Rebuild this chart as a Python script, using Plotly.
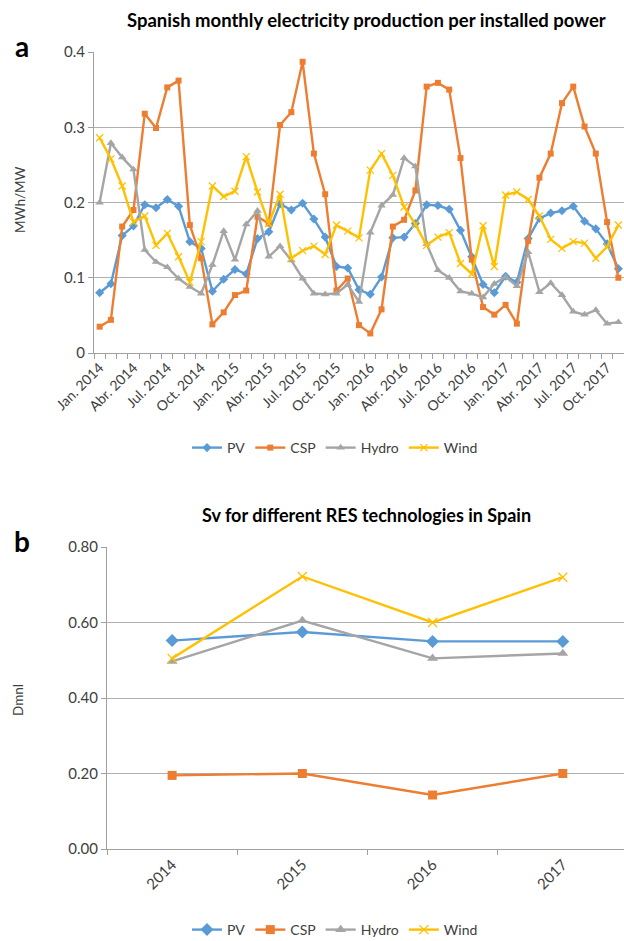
import plotly.graph_objects as go

# ---------------- Data: chart a (monthly, Jan 2014 .. Nov 2017) ----------------
month_index = list(range(47))
tick_positions = [0, 3, 6, 9, 12, 15, 18, 21, 24, 27, 30, 33, 36, 39, 42, 45]
tick_labels = ["Jan. 2014", "Abr. 2014", "Jul. 2014", "Oct. 2014",
               "Jan. 2015", "Abr. 2015", "Jul. 2015", "Oct. 2015",
               "Jan. 2016", "Abr. 2016", "Jul. 2016", "Oct. 2016",
               "Jan. 2017", "Abr. 2017", "Jul. 2017", "Oct. 2017"]

pv_monthly = [0.080, 0.092, 0.156, 0.169, 0.197, 0.193, 0.204, 0.195, 0.148, 0.139,
              0.082, 0.098, 0.111, 0.105, 0.152, 0.161, 0.198, 0.190, 0.199, 0.178,
              0.154, 0.115, 0.113, 0.084, 0.078, 0.101, 0.153, 0.154, 0.172, 0.197,
              0.196, 0.191, 0.163, 0.128, 0.091, 0.080, 0.102, 0.094, 0.152, 0.179,
              0.186, 0.189, 0.195, 0.175, 0.165, 0.145, 0.112]
csp_monthly = [0.035, 0.044, 0.168, 0.190, 0.318, 0.299, 0.353, 0.362, 0.170, 0.126,
               0.038, 0.054, 0.077, 0.083, 0.181, 0.172, 0.303, 0.320, 0.387, 0.265,
               0.211, 0.083, 0.099, 0.037, 0.026, 0.058, 0.168, 0.177, 0.216, 0.354,
               0.359, 0.350, 0.259, 0.124, 0.061, 0.051, 0.064, 0.039, 0.149, 0.233,
               0.265, 0.332, 0.354, 0.301, 0.265, 0.174, 0.100]
hydro_monthly = [0.200, 0.279, 0.260, 0.244, 0.137, 0.121, 0.114, 0.099, 0.088, 0.079,
                 0.117, 0.162, 0.124, 0.171, 0.189, 0.128, 0.142, 0.123, 0.099, 0.079,
                 0.078, 0.079, 0.091, 0.068, 0.160, 0.196, 0.210, 0.259, 0.248, 0.145,
                 0.110, 0.100, 0.082, 0.079, 0.074, 0.092, 0.101, 0.089, 0.134, 0.081,
                 0.093, 0.077, 0.055, 0.051, 0.057, 0.039, 0.041]
wind_monthly = [0.286, 0.258, 0.222, 0.174, 0.182, 0.143, 0.159, 0.128, 0.094, 0.148,
                0.222, 0.208, 0.215, 0.261, 0.214, 0.172, 0.211, 0.126, 0.136, 0.142,
                0.131, 0.170, 0.162, 0.153, 0.243, 0.265, 0.236, 0.194, 0.171, 0.143,
                0.154, 0.160, 0.119, 0.105, 0.169, 0.115, 0.210, 0.214, 0.204, 0.182,
                0.151, 0.139, 0.148, 0.146, 0.126, 0.141, 0.170]

# ---------------- Data: chart b (yearly Sv) ----------------
years = ["2014", "2015", "2016", "2017"]
pv_sv = [0.552, 0.575, 0.550, 0.550]
csp_sv = [0.195, 0.200, 0.143, 0.200]
hydro_sv = [0.497, 0.605, 0.505, 0.518]
wind_sv = [0.505, 0.722, 0.600, 0.720]

series_names = ["PV", "CSP", "Hydro", "Wind"]
colors = ["#5B9BD5", "#ED7D31", "#A5A5A5", "#FFC000"]
symbols = ["diamond", "square", "triangle-up", "x-thin"]
sizes_a = [7, 6, 7.5, 7]
sizes_b = [10, 9, 9.5, 9]

W, H = 624, 941
FONT = "Lato"
TXT = "#404040"

def px_x(p):
    return p / W

def px_y(p):
    return 1 - p / H

fig = go.Figure()

monthly = [pv_monthly, csp_monthly, hydro_monthly, wind_monthly]
for name, vals, c, s, sz in zip(series_names, monthly, colors, symbols, sizes_a):
    mk = dict(symbol=s, size=sz, color=c)
    if s == "x-thin":
        mk = dict(symbol=s, size=sz, color=c, line=dict(color=c, width=1.3))
    fig.add_trace(go.Scatter(x=month_index, y=vals, name=name, mode="lines+markers",
                             line=dict(color=c, width=2.4), marker=mk,
                             xaxis="x", yaxis="y", legend="legend"))

yearly = [pv_sv, csp_sv, hydro_sv, wind_sv]
for name, vals, c, s, sz in zip(series_names, yearly, colors, symbols, sizes_b):
    mk = dict(symbol=s, size=sz, color=c)
    if s == "x-thin":
        mk = dict(symbol=s, size=sz, color=c, line=dict(color=c, width=1.3))
    fig.add_trace(go.Scatter(x=[0, 1, 2, 3], y=vals, name=name, mode="lines+markers",
                             line=dict(color=c, width=2.4), marker=mk,
                             xaxis="x2", yaxis="y2", legend="legend2"))

grid = "#B0B0B0"
axis_line = "#A0A0A0"

fig.update_layout(
    width=W, height=H,
    margin=dict(l=0, r=0, t=0, b=0, pad=0, autoexpand=False),
    paper_bgcolor="white", plot_bgcolor="white",
    font=dict(family=FONT, size=12, color=TXT),
    showlegend=True,
    xaxis=dict(domain=[px_x(94), 1.0], range=[-0.5, 46.5], anchor="y", automargin=False,
               tickmode="array", tickvals=tick_positions, ticktext=tick_labels,
               tickangle=-45, ticks="", showgrid=False, zeroline=False,
               showline=True, linecolor=axis_line, linewidth=1,
               tickfont=dict(size=14, color=TXT),
               minor=dict(tickmode="linear", tick0=-0.5, dtick=1, ticks="outside",
                          ticklen=5, tickcolor=axis_line, showgrid=False)),
    yaxis=dict(domain=[px_y(353), px_y(52)], range=[0, 0.4], dtick=0.1, anchor="x",
               automargin=False,
               showgrid=True, gridcolor=grid, gridwidth=1, zeroline=False,
               showline=True, linecolor=axis_line, ticks="outside", ticklen=5,
               tickcolor=axis_line, tickfont=dict(size=15, color=TXT)),
    xaxis2=dict(domain=[px_x(107), 1.0], range=[-0.5, 3.47], anchor="y2", automargin=False,
                tickmode="array", tickvals=[0, 1, 2, 3], ticktext=years,
                tickangle=-45, ticks="", showgrid=False, zeroline=False,
                showline=True, linecolor=axis_line,
                tickfont=dict(size=15, color=TXT),
                minor=dict(tickmode="linear", tick0=-0.5, dtick=1, ticks="outside",
                           ticklen=5, tickcolor=axis_line, showgrid=False)),
    yaxis2=dict(domain=[px_y(849), px_y(547)], range=[0, 0.8], dtick=0.2, anchor="x2",
                automargin=False,
                tickformat=".2f", showgrid=True, gridcolor=grid, zeroline=False,
                showline=True, linecolor=axis_line, ticks="outside", ticklen=5,
                tickcolor=axis_line, tickfont=dict(size=15, color=TXT)),
    legend=dict(orientation="h", x=px_x(335), xanchor="center", y=px_y(448), yanchor="middle",
                font=dict(size=14, color=TXT), bgcolor="rgba(0,0,0,0)",
                itemwidth=30, tracegroupgap=0),
    legend2=dict(orientation="h", x=px_x(335), xanchor="center", y=px_y(930), yanchor="middle",
                 font=dict(size=14, color=TXT), bgcolor="rgba(0,0,0,0)",
                 itemwidth=30, tracegroupgap=0),
    annotations=[
        dict(text="<b>Spanish monthly electricity production per installed power</b>",
             x=px_x(366), y=px_y(20), xref="paper", yref="paper",
             xanchor="center", yanchor="middle", showarrow=False,
             font=dict(size=18.5, color="#000000", family=FONT)),
        dict(text="<b>Sv for different RES technologies in Spain</b>",
             x=px_x(366), y=px_y(515), xref="paper", yref="paper",
             xanchor="center", yanchor="middle", showarrow=False,
             font=dict(size=18, color="#000000", family=FONT)),
        dict(text="<b>a</b>", x=px_x(22), y=px_y(46), xref="paper", yref="paper",
             xanchor="center", yanchor="middle", showarrow=False,
             font=dict(size=28, color="#000000", family=FONT)),
        dict(text="<b>b</b>", x=px_x(22), y=px_y(541), xref="paper", yref="paper",
             xanchor="center", yanchor="middle", showarrow=False,
             font=dict(size=28, color="#000000", family=FONT)),
        dict(text="MWh/MW", x=px_x(20), y=px_y(200), xref="paper", yref="paper",
             xanchor="center", yanchor="middle", showarrow=False, textangle=-90,
             font=dict(size=13.5, color=TXT, family=FONT)),
        dict(text="Dmnl", x=px_x(18), y=px_y(700), xref="paper", yref="paper",
             xanchor="center", yanchor="middle", showarrow=False, textangle=-90,
             font=dict(size=13.5, color=TXT, family=FONT)),
    ],
)

fig.write_html("out.html",
               config={"displayModeBar": False, "staticPlot": True},
               post_script="document.body.style.margin='0';document.body.style.overflow='hidden';")
